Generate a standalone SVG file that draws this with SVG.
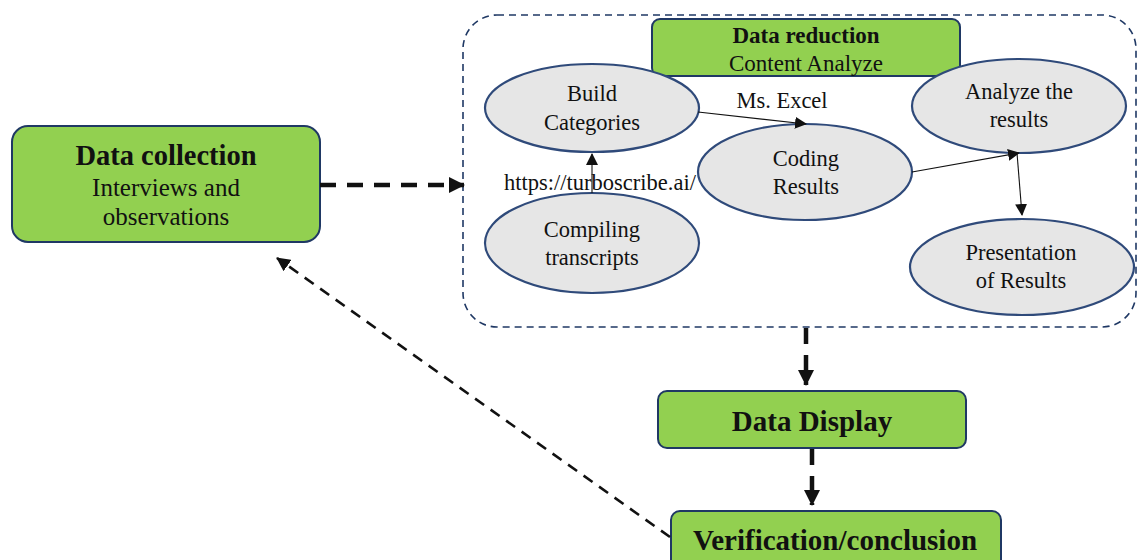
<svg xmlns="http://www.w3.org/2000/svg" width="1140" height="560" viewBox="0 0 1140 560">
<style>
  .box{fill:#92d050;stroke:#1f3864;stroke-width:2}
  .ell{fill:#e6e6e6;stroke:#2f4a7a;stroke-width:2.2}
  .t{font-family:"Liberation Serif","Times New Roman",serif;fill:#111;text-anchor:middle}
  .e{font-size:22.5px}
  .b{font-weight:bold}
  .thin{stroke:#111;stroke-width:1.1;fill:none}
  .thick{stroke:#111;stroke-width:4.5;fill:none;stroke-dasharray:16 11}
  .med{stroke:#111;stroke-width:2.6;fill:none;stroke-dasharray:11 8}
</style>
<defs>
  <marker id="ah" markerWidth="12" markerHeight="12" refX="11" refY="6" orient="auto" markerUnits="userSpaceOnUse">
    <path d="M0,0 L12,6 L0,12 z" fill="#111"/>
  </marker>
  <marker id="ahb" markerWidth="16" markerHeight="16" refX="15" refY="8" orient="auto" markerUnits="userSpaceOnUse">
    <path d="M0,0 L16,8 L0,16 z" fill="#111"/>
  </marker>
  <marker id="ahm" markerWidth="14" markerHeight="14" refX="13" refY="7" orient="auto" markerUnits="userSpaceOnUse">
    <path d="M0,0 L14,7 L0,14 z" fill="#111"/>
  </marker>
</defs>

<g id="container">
  <rect x="463" y="15" width="673" height="312" rx="34" fill="none" stroke="#1f3864" stroke-width="1.6" stroke-dasharray="7 5"/>
</g>

<g id="data-collection">
  <rect class="box" x="12" y="126" width="308" height="116" rx="16"/>
  <text class="t b" x="166" y="165" font-size="28.5">Data collection</text>
  <text class="t" x="166" y="196" font-size="25">Interviews and</text>
  <text class="t" x="166" y="225" font-size="25">observations</text>
</g>

<g id="data-reduction">
  <rect class="box" x="652" y="19" width="308" height="57" rx="8"/>
  <text class="t b" x="806" y="43" font-size="23">Data reduction</text>
  <text class="t" x="806" y="71" font-size="23">Content Analyze</text>
</g>

<g id="build-categories">
  <ellipse class="ell" cx="592" cy="108" rx="107" ry="44"/>
  <text class="t e" x="592" y="101">Build</text>
  <text class="t e" x="592" y="130">Categories</text>
</g>

<g id="coding-results">
  <ellipse class="ell" cx="805" cy="172" rx="107" ry="48"/>
  <text class="t e" x="806" y="166">Coding</text>
  <text class="t e" x="806" y="194">Results</text>
</g>

<g id="analyze-results">
  <ellipse class="ell" cx="1019" cy="106" rx="107" ry="47"/>
  <text class="t e" x="1019" y="99">Analyze the</text>
  <text class="t e" x="1019" y="127">results</text>
</g>

<g id="compiling-transcripts">
  <ellipse class="ell" cx="592" cy="243" rx="107" ry="50"/>
  <text class="t e" x="592" y="237">Compiling</text>
  <text class="t e" x="592" y="265">transcripts</text>
</g>

<g id="presentation-results">
  <ellipse class="ell" cx="1022" cy="267" rx="112" ry="48"/>
  <text class="t e" x="1021" y="260">Presentation</text>
  <text class="t e" x="1021" y="288">of Results</text>
</g>

<g id="data-display">
  <rect class="box" x="658" y="391" width="308" height="57" rx="9"/>
  <text class="t b" x="812" y="431" font-size="29">Data Display</text>
</g>

<g id="verification">
  <rect class="box" x="671" y="511" width="330" height="60" rx="9"/>
  <text class="t b" x="835" y="550" font-size="29">Verification/conclusion</text>
</g>

<g id="connectors">
  <line class="thin" x1="698" y1="112" x2="806" y2="124" marker-end="url(#ah)"/>
  <line class="thin" x1="912" y1="172" x2="1019" y2="153" marker-end="url(#ah)"/>
  <line class="thin" x1="1017" y1="153" x2="1022" y2="215" marker-end="url(#ah)"/>
  <line class="thin" x1="592" y1="193" x2="592" y2="154" marker-end="url(#ah)" stroke-width="1.4"/>
  <line class="thick" x1="320" y1="185" x2="464" y2="185" marker-end="url(#ahb)"/>
  <line class="thick" x1="806" y1="328" x2="806" y2="385" marker-end="url(#ahb)" stroke-dasharray="20 15"/>
  <line class="thick" x1="812" y1="449" x2="812" y2="505" marker-end="url(#ahb)" stroke-dasharray="20 16"/>
  <line class="med" x1="670" y1="537" x2="277" y2="258" marker-end="url(#ahm)"/>
  <text class="t e" x="600" y="190">https://turboscribe.ai/</text>
  <text class="t e" x="782" y="108">Ms. Excel</text>
</g>
</svg>
